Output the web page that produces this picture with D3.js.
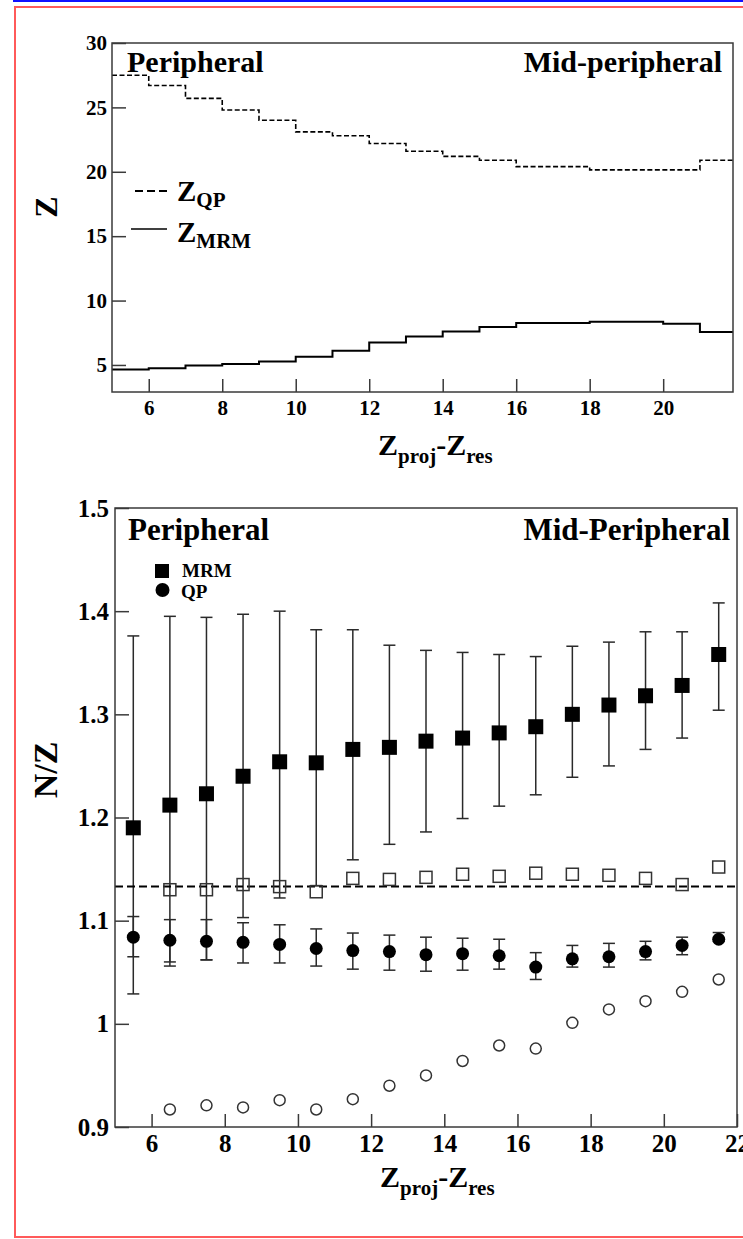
<!DOCTYPE html>
<html lang="en">
<head>
  <meta charset="UTF-8">
  <title>Z and N/Z vs Zproj-Zres</title>
  <style>
    body { margin: 0; background: #ffffff }
    #thesvg { width: 743px; height: 1239px; display: block }
    text { font-family: "Liberation Serif", "Times New Roman", serif; font-weight: bold; fill: #000 }
  </style>
</head>
<body>
  <svg id="thesvg" width="743" height="1239"></svg>
  <script src="https://cdn.jsdelivr.net/npm/d3@7"></script>
  <script>

    // ---- top panel: Z of QP and MRM, one value per unit bin (bin low edge)
    var zBins = [5, 6, 7, 8, 9, 10, 11, 12, 13, 14, 15, 16, 17, 18, 19, 20, 21];
    var zQP   = [27.5, 26.7, 25.7, 24.8, 24.0, 23.1, 22.8, 22.2, 21.6, 21.2, 20.9, 20.4, 20.4, 20.15, 20.15, 20.15, 20.9];
    var zMRM  = [4.64, 4.74, 4.95, 5.08, 5.26, 5.64, 6.1, 6.75, 7.2, 7.6, 7.95, 8.26, 8.26, 8.36, 8.36, 8.2, 7.56];

    var zTicks = [5, 10, 15, 20, 25, 30];
    var zTickLabels = ["5", "10", "15", "20", "25", "30"];
    var xTopTicks = [6, 8, 10, 12, 14, 16, 18, 20];
    var xTopTickLabels = ["6", "8", "10", "12", "14", "16", "18", "20"];

    // ---- bottom panel: N/Z, bin centres
    var nzX     = [5.5, 6.5, 7.5, 8.5, 9.5, 10.5, 11.5, 12.5, 13.5, 14.5, 15.5, 16.5, 17.5, 18.5, 19.5, 20.5, 21.5];
    var mrmNZ   = [1.190, 1.212, 1.223, 1.240, 1.254, 1.253, 1.266, 1.268, 1.274, 1.277, 1.282, 1.288, 1.300, 1.309, 1.318, 1.328, 1.358];
    var mrmHi   = [1.376, 1.395, 1.394, 1.397, 1.400, 1.382, 1.382, 1.367, 1.362, 1.360, 1.358, 1.356, 1.366, 1.370, 1.380, 1.380, 1.408];
    var mrmLo   = [1.029, 1.060, 1.062, 1.103, 1.122, 1.134, 1.159, 1.174, 1.186, 1.199, 1.211, 1.222, 1.239, 1.250, 1.266, 1.277, 1.304];
    var qpNZ    = [1.084, 1.081, 1.080, 1.079, 1.077, 1.073, 1.071, 1.070, 1.067, 1.068, 1.066, 1.055, 1.063, 1.065, 1.070, 1.076, 1.082];
    var qpHi    = [1.104, 1.101, 1.101, 1.098, 1.096, 1.092, 1.088, 1.086, 1.084, 1.083, 1.082, 1.069, 1.076, 1.078, 1.080, 1.084, 1.0885];
    var qpLo    = [1.065, 1.056, 1.062, 1.059, 1.059, 1.056, 1.053, 1.052, 1.051, 1.052, 1.053, 1.043, 1.055, 1.055, 1.062, 1.067, 1.080];
    var openSq  = [null, 1.130, 1.130, 1.135, 1.133, 1.128, 1.141, 1.140, 1.142, 1.145, 1.143, 1.146, 1.145, 1.144, 1.141, 1.135, 1.152];
    var openCir = [null, 0.917, 0.921, 0.919, 0.926, 0.917, 0.927, 0.940, 0.950, 0.964, 0.979, 0.976, 1.001, 1.014, 1.022, 1.031, 1.043];
    var nzRef = 1.133;

    var nzTicks = [0.9, 1.0, 1.1, 1.2, 1.3, 1.4, 1.5];
    var nzTickLabels = ["0.9", "1", "1.1", "1.2", "1.3", "1.4", "1.5"];
    var xBotTicks = [6, 8, 10, 12, 14, 16, 18, 20, 22];
    var xBotTickLabels = ["6", "8", "10", "12", "14", "16", "18", "20", "22"];

    var svg = d3.select("svg");
    var ink = "#3a3a3a";

    // outer frame of the page
    svg.append("line").attr("x1", 13).attr("x2", 743).attr("y1", 1).attr("y2", 1)
      .attr("stroke", "#1010ff").attr("stroke-width", 2);
    svg.append("rect").attr("x", 15).attr("y", 7).attr("width", 760).attr("height", 1230)
      .attr("fill", "none").attr("stroke", "#ff5a5a").attr("stroke-width", 2);

    function frame(x, y) {
      svg.append("rect")
        .attr("x", x.range()[0]).attr("y", y.range()[1])
        .attr("width", x.range()[1] - x.range()[0])
        .attr("height", y.range()[0] - y.range()[1])
        .attr("fill", "none").attr("stroke", ink).attr("stroke-width", 1.5);
    }

    function axes(x, y, o) {
      var gx = svg.append("g").attr("transform", "translate(0," + y.range()[0] + ")");
      gx.call(d3.axisBottom(x).tickValues(o.xMinor).tickSize(-6).tickFormat(""));
      gx.call(d3.axisBottom(x).tickValues(o.xTicks).tickSize(-13).tickPadding(o.xPad)
        .tickFormat(function(d, i) { return o.xLabels[i]; }));
      var gy = svg.append("g").attr("transform", "translate(" + x.range()[0] + ",0)");
      gy.call(d3.axisLeft(y).tickValues(o.yMinor).tickSize(-6).tickFormat(""));
      gy.call(d3.axisLeft(y).tickValues(o.yTicks).tickSize(-14).tickPadding(o.yPad)
        .tickFormat(function(d, i) { return o.yLabels[i]; }));
      svg.selectAll(".domain").remove();
      svg.selectAll(".tick line").attr("stroke", ink).attr("stroke-width", 1.5);
      [gx, gy].forEach(function(g) {
        g.selectAll("text").style("font-size", o.font + "px")
          .style("font-family", '"Liberation Serif", serif').style("font-weight", "bold").attr("fill", "#000");
      });
    }

    // subscripted axis title: Z_proj - Z_res
    function xTitle(x0, base, bigSize, subSize) {
      var t = svg.append("text").attr("x", x0).attr("y", base).style("font-size", bigSize + "px");
      t.append("tspan").text("Z");
      t.append("tspan").attr("dy", 8).style("font-size", subSize + "px").text("proj");
      t.append("tspan").attr("dy", -8).text("-Z");
      t.append("tspan").attr("dy", 8).style("font-size", subSize + "px").text("res");
    }

    // ================= top panel =================
    var xTop = d3.scaleLinear().domain([5, 21.9]).range([112, 733]);
    var yTop = d3.scaleLinear().domain([2.9, 30]).range([392, 43]);

    svg.append("clipPath").attr("id", "clipTop").append("rect")
      .attr("x", 112).attr("y", 43).attr("width", 733 - 112).attr("height", 392 - 43);

    var stepData = function(vals) {
      var pts = zBins.map(function(b, i) { return [b, vals[i]]; });
      pts.push([zBins[zBins.length - 1] + 1, vals[vals.length - 1]]);
      return pts;
    };
    var step = d3.line().curve(d3.curveStepAfter)
      .x(function(d) { return xTop(d[0]); })
      .y(function(d) { return yTop(d[1]); });

    svg.append("path").attr("d", step(stepData(zQP))).attr("clip-path", "url(#clipTop)")
      .attr("fill", "none").attr("stroke", "#000").attr("stroke-width", 1.6).attr("stroke-dasharray", "5,2.5");
    svg.append("path").attr("d", step(stepData(zMRM))).attr("clip-path", "url(#clipTop)")
      .attr("fill", "none").attr("stroke", "#000").attr("stroke-width", 2);

    axes(xTop, yTop, {
      xTicks: xTopTicks, xLabels: xTopTickLabels, xMinor: d3.range(5, 21.9, 0.5), xPad: 8,
      yTicks: zTicks, yLabels: zTickLabels, yMinor: d3.range(3, 30, 1), yPad: 5, font: 21
    });
    frame(xTop, yTop);

    svg.append("text").attr("x", 127).attr("y", 72).style("font-size", "30px").text("Peripheral");
    svg.append("text").attr("x", 722).attr("y", 72).attr("text-anchor", "end").style("font-size", "30px").text("Mid-peripheral");

    // legend
    svg.append("line").attr("x1", 135).attr("x2", 167).attr("y1", 191).attr("y2", 191)
      .attr("stroke", "#000").attr("stroke-width", 2).attr("stroke-dasharray", "8,4");
    var lq = svg.append("text").attr("x", 177).attr("y", 201).style("font-size", "29px");
    lq.append("tspan").text("Z");
    lq.append("tspan").attr("dy", 6).style("font-size", "21px").text("QP");
    svg.append("line").attr("x1", 131).attr("x2", 167).attr("y1", 229).attr("y2", 229)
      .attr("stroke", "#000").attr("stroke-width", 1.5);
    var lm = svg.append("text").attr("x", 177).attr("y", 242).style("font-size", "29px");
    lm.append("tspan").text("Z");
    lm.append("tspan").attr("dy", 6).style("font-size", "21px").text("MRM");

    svg.append("text").attr("transform", "translate(57,207) rotate(-90)").attr("text-anchor", "middle")
      .style("font-size", "32px").text("Z");
    xTitle(378, 455, 30, 21);

    // ================= bottom panel =================
    var xBot = d3.scaleLinear().domain([5, 22]).range([115, 737]);
    var yBot = d3.scaleLinear().domain([0.9, 1.5]).range([1127, 508]);

    function errorBars(lo, hi, cap, color) {
      var g = svg.append("g").attr("stroke", color).attr("stroke-width", 1.5);
      nzX.forEach(function(xv, i) {
        var cx = xBot(xv);
        g.append("line").attr("x1", cx).attr("x2", cx).attr("y1", yBot(hi[i])).attr("y2", yBot(lo[i]));
        g.append("line").attr("x1", cx - cap).attr("x2", cx + cap).attr("y1", yBot(hi[i])).attr("y2", yBot(hi[i]));
        g.append("line").attr("x1", cx - cap).attr("x2", cx + cap).attr("y1", yBot(lo[i])).attr("y2", yBot(lo[i]));
      });
    }
    errorBars(mrmLo, mrmHi, 6, "#2a2a2a");
    errorBars(qpLo, qpHi, 6, "#2a2a2a");

    svg.append("line").attr("x1", xBot(5)).attr("x2", xBot(22)).attr("y1", yBot(nzRef)).attr("y2", yBot(nzRef))
      .attr("stroke", "#000").attr("stroke-width", 2).attr("stroke-dasharray", "8,4");

    var idx = nzX.map(function(d, i) { return i; });

    svg.selectAll(".osq").data(idx.filter(function(i) { return openSq[i] != null; })).enter()
      .append("rect").attr("class", "osq")
      .attr("x", function(i) { return xBot(nzX[i]) - 6; })
      .attr("y", function(i) { return yBot(openSq[i]) - 6; })
      .attr("width", 12).attr("height", 12)
      .attr("fill", "none").attr("stroke", "#333").attr("stroke-width", 1.5);

    svg.selectAll(".ocir").data(idx.filter(function(i) { return openCir[i] != null; })).enter()
      .append("circle").attr("class", "ocir")
      .attr("cx", function(i) { return xBot(nzX[i]); })
      .attr("cy", function(i) { return yBot(openCir[i]); })
      .attr("r", 5.5).attr("fill", "none").attr("stroke", "#333").attr("stroke-width", 1.5);

    svg.selectAll(".fsq").data(idx).enter()
      .append("rect").attr("class", "fsq")
      .attr("x", function(i) { return xBot(nzX[i]) - 7.5; })
      .attr("y", function(i) { return yBot(mrmNZ[i]) - 7.5; })
      .attr("width", 15).attr("height", 15).attr("fill", "#000");

    svg.selectAll(".fcir").data(idx).enter()
      .append("circle").attr("class", "fcir")
      .attr("cx", function(i) { return xBot(nzX[i]); })
      .attr("cy", function(i) { return yBot(qpNZ[i]); })
      .attr("r", 6.5).attr("fill", "#000");

    axes(xBot, yBot, {
      xTicks: xBotTicks, xLabels: xBotTickLabels, xMinor: d3.range(5, 22, 0.5), xPad: 7,
      yTicks: nzTicks, yLabels: nzTickLabels, yMinor: d3.range(0.9, 1.5, 0.02), yPad: 6, font: 25
    });
    frame(xBot, yBot);

    svg.append("text").attr("x", 128).attr("y", 540).style("font-size", "31px").text("Peripheral");
    svg.append("text").attr("x", 730).attr("y", 540).attr("text-anchor", "end").style("font-size", "31px").text("Mid-Peripheral");

    // legend
    svg.append("rect").attr("x", 155).attr("y", 564).attr("width", 14).attr("height", 14).attr("fill", "#000");
    svg.append("text").attr("x", 182).attr("y", 577).style("font-size", "19px").text("MRM");
    svg.append("circle").attr("cx", 162.5).attr("cy", 590).attr("r", 7).attr("fill", "#000");
    svg.append("text").attr("x", 181).attr("y", 598).style("font-size", "19px").text("QP");

    svg.append("text").attr("transform", "translate(57,770) rotate(-90)").attr("text-anchor", "middle")
      .style("font-size", "34px").text("N/Z");
    xTitle(380, 1187, 30, 21);

  </script>
</body>
</html>
